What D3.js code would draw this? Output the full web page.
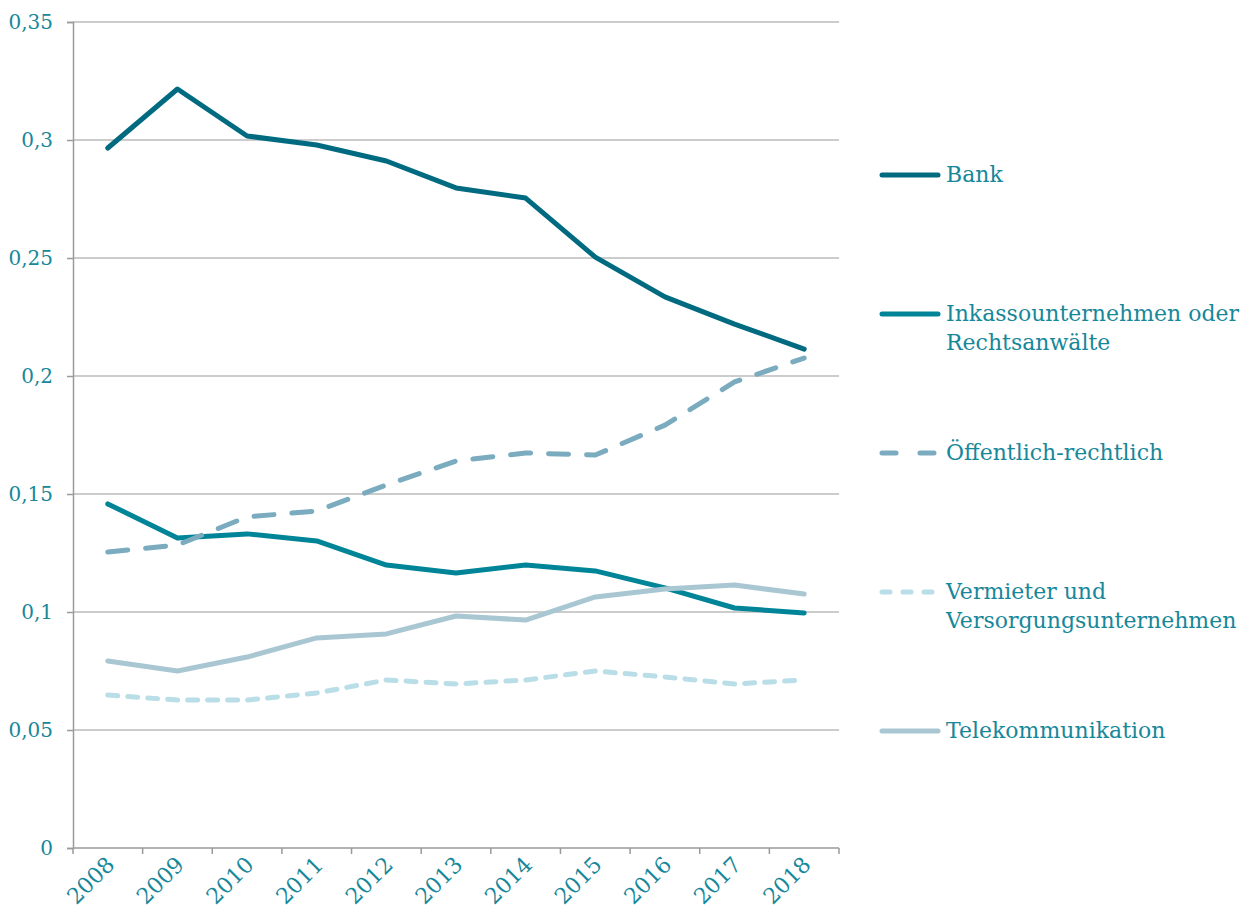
<!DOCTYPE html>
<html>
<head>
<meta charset="utf-8">
<script src="https://cdn.jsdelivr.net/npm/d3@7"></script>
<style>
  body { margin: 0; background: #fff; }
  text { font-family: Georgia, "DejaVu Serif", serif; fill: #17879a; }
</style>
</head>
<body>
<div id="chart-area"></div>
<script>
const years = ["2008", "2009", "2010", "2011", "2012", "2013", "2014", "2015", "2016", "2017", "2018"]
const yTicks = [0, 0.05, 0.1, 0.15, 0.2, 0.25, 0.3, 0.35]

const bank = [0.2966, 0.3216, 0.3017, 0.2979, 0.2911, 0.2797, 0.2754, 0.2504, 0.2335, 0.222, 0.2114]
const inkasso = [0.1458, 0.1314, 0.1331, 0.1301, 0.1199, 0.1165, 0.1199, 0.1174, 0.1102, 0.1017, 0.0996]
const oeffentlich = [0.1254, 0.1284, 0.1403, 0.1428, 0.1538, 0.164, 0.1674, 0.1665, 0.1792, 0.1975, 0.2076]
const vermieter = [0.0648, 0.0627, 0.0627, 0.0657, 0.0712, 0.0695, 0.0712, 0.075, 0.0725, 0.0695, 0.0712]
const telekom = [0.0792, 0.075, 0.0809, 0.089, 0.0907, 0.0983, 0.0966, 0.1064, 0.1097, 0.1114, 0.1076]

const series = [
  { name: ["Bank"], values: bank, color: "#006b80", dash: null, legendY: 175 },
  { name: ["Inkassounternehmen oder", "Rechtsanwälte"], values: inkasso, color: "#008497", dash: null, legendY: 314 },
  { name: ["Öffentlich-rechtlich"], values: oeffentlich, color: "#7aabbe", dash: "20,18", legendY: 453 },
  { name: ["Vermieter und", "Versorgungsunternehmen"], values: vermieter, color: "#b9dee7", dash: "10,10", legendY: 592 },
  { name: ["Telekommunikation"], values: telekom, color: "#a9c7d3", dash: null, legendY: 731 }
]

const MARGIN = { LEFT: 73, RIGHT: 411, TOP: 22, BOTTOM: 65 }
const WIDTH = 1250 - MARGIN.LEFT - MARGIN.RIGHT
const HEIGHT = 913 - MARGIN.TOP - MARGIN.BOTTOM

const svg = d3.select("#chart-area").append("svg")
  .attr("width", 1250)
  .attr("height", 913)

const g = svg.append("g")
  .attr("transform", `translate(${MARGIN.LEFT}, ${MARGIN.TOP})`)

const x = d3.scaleBand()
  .domain(years)
  .range([0, WIDTH])

const y = d3.scaleLinear()
  .domain([0, 0.35])
  .range([HEIGHT, 0])

// gridlines
g.selectAll(".grid")
  .data(yTicks.filter(d => d > 0))
  .enter().append("line")
  .attr("x1", 0)
  .attr("x2", WIDTH)
  .attr("y1", d => y(d))
  .attr("y2", d => y(d))
  .attr("stroke", "#9a9a9a")
  .attr("stroke-width", 1.2)

// Y axis
const yAxisGroup = g.append("g")
  .call(d3.axisLeft(y)
    .tickValues(yTicks)
    .tickSize(6)
    .tickFormat(d => String(d).replace(".", ",")))
yAxisGroup.select(".domain").attr("stroke", "#9a9a9a").attr("stroke-width", 1.5)
yAxisGroup.selectAll(".tick line").attr("stroke", "#9a9a9a").attr("stroke-width", 1.5)
yAxisGroup.selectAll("text")
  .attr("x", -20)
  .attr("font-size", "20px")
  .style("fill", "#17879a")

// X axis with ticks at band edges
const xAxisGroup = g.append("g")
  .attr("transform", `translate(0, ${HEIGHT})`)
xAxisGroup.append("line")
  .attr("x1", 0).attr("x2", WIDTH)
  .attr("stroke", "#9a9a9a").attr("stroke-width", 1.5)
xAxisGroup.selectAll(".xtick")
  .data(years.concat(["end"]))
  .enter().append("line")
  .attr("x1", (d, i) => i < years.length ? x(d) : WIDTH)
  .attr("x2", (d, i) => i < years.length ? x(d) : WIDTH)
  .attr("y1", 0).attr("y2", 6)
  .attr("stroke", "#9a9a9a").attr("stroke-width", 1.5)
xAxisGroup.selectAll(".xlabel")
  .data(years)
  .enter().append("text")
  .attr("text-anchor", "end")
  .attr("font-size", "22px")
  .attr("transform", d => `translate(${x(d) + x.bandwidth() / 2 + 8}, ${18}) rotate(-45)`)
  .text(d => d)

// lines
const line = d3.line()
  .x((d, i) => x(years[i]) + x.bandwidth() / 2)
  .y(d => y(d))

g.selectAll(".series")
  .data(series)
  .enter().append("path")
  .attr("d", d => line(d.values))
  .attr("fill", "none")
  .attr("stroke", d => d.color)
  .attr("stroke-width", 5)
  .attr("stroke-linecap", "round")
  .attr("stroke-linejoin", "round")
  .attr("stroke-dasharray", d => d.dash)

// legend
const legend = svg.selectAll(".legend")
  .data(series)
  .enter().append("g")
  .attr("transform", d => `translate(0, ${d.legendY})`)

legend.append("line")
  .attr("x1", 882).attr("x2", 938)
  .attr("y1", 0).attr("y2", 0)
  .attr("stroke", d => d.color)
  .attr("stroke-width", 5)
  .attr("stroke-linecap", "round")
  .attr("stroke-dasharray", d => d.dash ? (d.dash === "20,18" ? "14,24" : "8,13") : null)

legend.each(function (d) {
  const t = d3.select(this).append("text")
    .attr("x", 946)
    .attr("font-size", "22px")
  d.name.forEach((s, i) => {
    t.append("tspan")
      .attr("x", 946)
      .attr("y", 7 + i * 29)
      .text(s)
  })
})
</script>
</body>
</html>
